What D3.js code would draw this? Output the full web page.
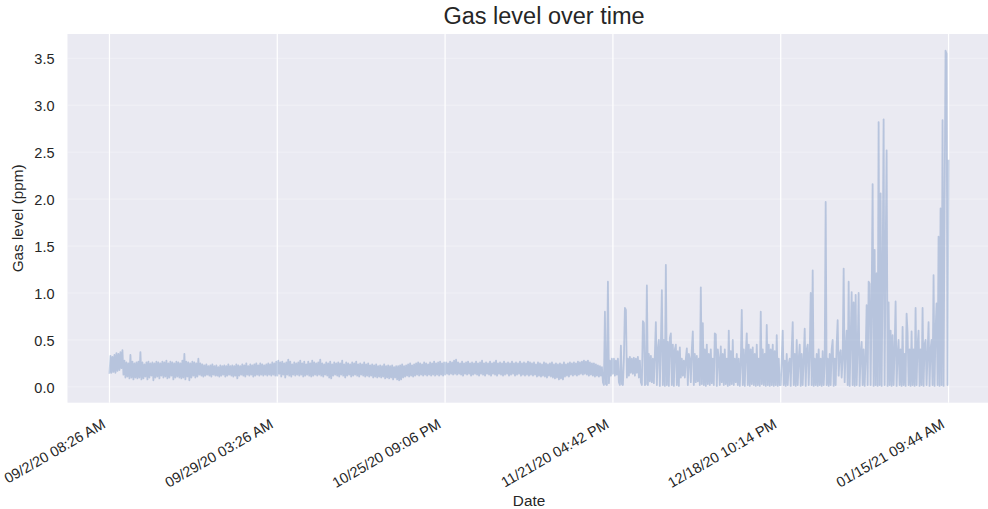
<!DOCTYPE html>
<html>
<head>
<meta charset="utf-8">
<script src="https://cdn.jsdelivr.net/npm/d3@7"></script>
<style>
  html, body { margin: 0; padding: 0; background: #ffffff; }
  svg { display: block; }
</style>
</head>
<body>
<svg id="chart" width="988" height="509"></svg>
<script>
// Gas readings (ppm), one array per span between the date ticks.
const gas_0902_0929 = [
  0.14,0.33,0.15,0.32,0.16,0.34,0.15,0.36,0.17,0.35,0.18,0.37,0.2,0.39,
  0.13,0.28,0.1,0.26,0.11,0.25,0.09,0.34,0.1,0.27,
  0.08,0.25,0.1,0.26,0.09,0.27,0.1,0.37,0.08,0.26,
  0.09,0.24,0.11,0.26,0.08,0.27,0.1,0.25,0.12,0.26,
  0.07,0.25,0.1,0.27,0.11,0.26,0.09,0.25,0.12,0.27,
  0.1,0.26,0.11,0.28,0.09,0.25,0.1,0.27,0.12,0.26,
  0.08,0.25,0.1,0.27,0.11,0.26,0.1,0.25,0.09,0.28,
  0.1,0.35,0.08,0.27,0.11,0.26,0.07,0.25,0.1,0.27,
  0.12,0.26,0.1,0.25,0.11,0.3,0.13,0.25,0.12,0.24,
  0.11,0.23,0.12,0.24,0.13,0.22,0.12,0.23,0.11,0.24,
  0.13,0.22,0.12,0.23,0.12,0.21,0.11,0.23,0.12,0.22,
  0.13,0.23,0.11,0.22,0.12,0.24,0.13,0.22,0.12,0.23,
  0.11,0.22,0.12,0.24,0.09,0.23,0.12,0.22,0.13,0.24,
  0.12,0.23,0.11,0.25,0.13,0.22,0.12,0.24,0.13,0.23,
  0.11,0.24,0.12,0.25,0.13,0.23,0.12,0.25,0.13,0.24,
  0.12,0.23,0.13,0.24,0.12,0.25,0.13,0.24,0.12,0.26,
  0.13,0.25,0.12,0.27
];
const gas_0929_1025 = [
  0.12,0.28,0.14,0.26,0.11,0.27,0.13,0.25,0.1,0.26,
  0.13,0.29,0.12,0.27,0.11,0.24,0.13,0.26,0.12,0.25,
  0.13,0.26,0.12,0.28,0.13,0.25,0.11,0.27,0.12,0.24,
  0.13,0.27,0.12,0.25,0.11,0.28,0.12,0.26,0.13,0.25,
  0.12,0.26,0.13,0.29,0.12,0.25,0.11,0.24,0.13,0.26,
  0.12,0.25,0.1,0.27,0.09,0.24,0.12,0.26,0.13,0.25,
  0.12,0.26,0.11,0.25,0.13,0.28,0.12,0.24,0.1,0.26,
  0.12,0.25,0.13,0.24,0.11,0.26,0.12,0.25,0.13,0.27,
  0.12,0.24,0.11,0.25,0.13,0.24,0.12,0.26,0.11,0.24,
  0.12,0.25,0.11,0.23,0.12,0.24,0.1,0.23,0.11,0.24,
  0.1,0.22,0.11,0.23,0.1,0.22,0.11,0.24,0.09,0.22,
  0.1,0.23,0.09,0.22,0.1,0.23,0.08,0.21,0.1,0.22,
  0.08,0.22,0.07,0.23,0.08,0.24,0.1,0.22,0.11,0.23,
  0.12,0.24,0.11,0.25,0.12,0.23,0.11,0.24,0.12,0.25,
  0.13,0.26,0.12,0.25,0.13,0.24,0.12,0.26,0.13,0.25,
  0.12,0.24,0.13,0.26,0.12,0.25,0.13,0.27,0.12,0.25,
  0.13,0.26,0.12,0.27,0.13,0.25,0.12,0.26
];
const gas_1025_1121 = [
  0.13,0.26,0.14,0.25,0.13,0.27,0.14,0.26,0.13,0.28,
  0.14,0.29,0.13,0.26,0.14,0.25,0.13,0.27,0.12,0.25,
  0.14,0.26,0.13,0.27,0.14,0.25,0.12,0.26,0.13,0.25,
  0.14,0.27,0.13,0.25,0.12,0.26,0.14,0.28,0.13,0.25,
  0.12,0.26,0.14,0.25,0.13,0.27,0.12,0.25,0.14,0.26,
  0.13,0.28,0.12,0.25,0.14,0.26,0.13,0.25,0.12,0.27,
  0.13,0.25,0.14,0.26,0.12,0.25,0.13,0.27,0.14,0.25,
  0.12,0.26,0.13,0.25,0.14,0.27,0.12,0.25,0.13,0.26,
  0.12,0.25,0.13,0.27,0.12,0.26,0.13,0.25,0.12,0.26,
  0.13,0.24,0.11,0.26,0.12,0.25,0.11,0.24,0.12,0.26,
  0.11,0.25,0.1,0.24,0.12,0.25,0.11,0.26,0.1,0.24,
  0.09,0.25,0.1,0.24,0.08,0.25,0.09,0.24,0.08,0.26,
  0.11,0.24,0.12,0.25,0.11,0.26,0.13,0.25,0.12,0.26,
  0.13,0.25,0.12,0.27,0.13,0.26,0.14,0.27,0.13,0.28,
  0.14,0.27,0.13,0.28,0.12,0.26,0.13,0.25,0.12,0.25,
  0.11,0.24,0.12,0.23,0.11,0.22,0.12,0.21,0.05,0.02,
  0.8,0.03,0.02,1.12,0.04,0.28,0.12,0.3
];
const gas_1121_1218 = [
  0.14,0.3,0.12,0.28,0.13,0.3,0.05,0.02,0.44,0.03,
  0.02,0.3,0.84,0.82,0.1,0.3,0.12,0.32,0.15,0.3,
  0.14,0.31,0.12,0.3,0.15,0.32,0.1,0.28,0.05,0.02,
  0.7,0.68,0.02,0.03,1.08,0.02,0.35,0.06,0.33,0.05,
  0.3,0.04,0.35,0.69,0.02,0.4,0.5,0.01,0.45,1.03,
  0.02,0.5,0.01,1.3,0.02,0.48,0.01,0.52,0.57,0.02,
  0.45,0.01,0.4,0.45,0.02,0.38,0.01,0.42,0.1,0.3,
  0.12,0.28,0.1,0.3,0.41,0.02,0.35,0.3,0.05,0.4,
  0.59,0.02,0.35,0.05,0.33,0.06,0.3,0.02,1.06,0.03,
  0.68,0.02,0.4,0.01,0.45,0.03,0.35,0.02,0.4,0.04,
  0.3,0.02,0.57,0.56,0.01,0.4,0.3,0.02,0.43,0.05,
  0.35,0.02,0.4,0.03,0.3,0.01,0.6,0.02,0.38,0.03,
  0.5,0.02,0.3,0.05,0.35,0.02,0.3,0.01,0.25,0.82,
  0.02,0.4,0.01,0.35,0.57,0.02,0.45,0.01,0.4,0.03,
  0.42,0.02,0.35,0.01,0.45,0.02,0.3,0.01,0.8,0.03,
  0.4,0.02,0.35,0.01,0.66,0.02,0.45,0.01,0.4,0.02,
  0.45,0.01,0.38,0.02,0.55,0.01,0.3,0.02
];
const gas_1218_0115 = [
  0.02,0.3,0.6,0.02,0.28,0.01,0.35,0.02,0.25,0.3,
  0.01,0.4,0.69,0.02,0.35,0.01,0.5,0.02,0.3,0.45,
  0.01,0.35,0.02,0.3,0.62,0.01,0.4,0.45,0.02,0.35,
  1.0,0.02,1.24,0.01,0.3,0.02,0.35,0.01,0.4,0.02,
  0.3,0.01,0.38,0.02,0.25,1.97,0.02,0.3,0.01,0.35,
  0.02,0.4,0.5,0.01,0.3,0.02,0.45,0.71,0.12,0.35,
  0.39,0.1,0.3,1.26,0.05,0.4,0.6,0.02,1.12,0.01,
  0.5,1.01,0.02,0.9,0.01,0.98,0.02,0.4,1.0,0.01,
  0.35,0.48,0.02,0.4,0.01,0.3,0.87,0.02,1.12,1.1,
  0.02,0.9,2.16,0.01,1.46,0.02,1.21,0.01,2.82,0.02,
  2.06,0.01,1.2,2.85,0.02,1.4,2.52,0.01,0.9,0.02,
  0.6,0.01,0.55,0.02,0.4,0.91,0.01,0.35,0.5,0.02,
  0.4,0.01,0.64,0.02,0.35,0.01,0.78,0.57,0.02,0.4,
  0.01,0.59,0.02,0.4,0.01,0.84,0.02,0.45,0.6,0.01,
  0.4,0.02,0.84,0.01,0.45,0.5,0.02,0.35,0.69,0.01,
  0.4,0.5,0.02,1.19,0.01,0.6,0.89,0.02,1.6,0.01,
  1.9,0.02,2.84,0.01,1.85,3.58,3.55,0.02,2.42
];

const tickLabels = [
  "09/2/20 08:26 AM",
  "09/29/20 03:26 AM",
  "10/25/20 09:06 PM",
  "11/21/20 04:42 PM",
  "12/18/20 10:14 PM",
  "01/15/21 09:44 AM"
];
const yTicks = [0, 0.5, 1.0, 1.5, 2.0, 2.5, 3.0, 3.5];

const gasLevels = [].concat(gas_0902_0929, gas_0929_1025, gas_1025_1121, gas_1121_1218, gas_1218_0115);

const FONT = '"Liberation Sans", Arial, Helvetica, sans-serif';
const TEXT = "#262626";
const plot = { left: 67.5, right: 990.5, top: 34, bottom: 402.7 };

const svg = d3.select("#chart");

// x runs over sample index, with 5% padding on each side
const n = gasLevels.length;
const xPad = (n - 1) * 0.05;
const x = d3.scaleLinear().domain([-xPad, n - 1 + xPad]).range([plot.left, plot.right]);

const yLo = d3.min(gasLevels), yHi = d3.max(gasLevels);
const yPad = (yHi - yLo) * 0.05;
const y = d3.scaleLinear().domain([yLo - yPad, yHi + yPad]).range([plot.bottom, plot.top]);

const tickIdx = tickLabels.map((_, k) => k * (n - 1) / (tickLabels.length - 1));

// plot background
svg.append("rect")
  .attr("x", plot.left).attr("y", plot.top)
  .attr("width", plot.right - plot.left).attr("height", plot.bottom - plot.top)
  .attr("fill", "#eaeaf2");

// grid
svg.append("g").selectAll("line").data(yTicks).join("line")
  .attr("x1", plot.left).attr("x2", plot.right)
  .attr("y1", d => y(d)).attr("y2", d => y(d))
  .attr("stroke", "#ffffff").attr("stroke-opacity", 0.35).attr("stroke-width", 1);

svg.append("g").selectAll("line").data(tickIdx).join("line")
  .attr("x1", d => x(d)).attr("x2", d => x(d))
  .attr("y1", plot.top).attr("y2", plot.bottom)
  .attr("stroke", "#ffffff").attr("stroke-width", 1.2);

// gas series
const line = d3.line().x((d, i) => x(i)).y(d => y(d));
svg.append("path")
  .datum(gasLevels)
  .attr("d", line)
  .attr("fill", "none")
  .attr("stroke", "#4c72b0")
  .attr("stroke-opacity", 0.32)
  .attr("stroke-width", 1.8)
  .attr("stroke-linejoin", "round");

// y axis
const yAxis = svg.append("g")
  .attr("transform", `translate(${plot.left},0)`)
  .call(d3.axisLeft(y).tickValues(yTicks).tickFormat(d3.format(".1f")).tickSize(0));
yAxis.select(".domain").remove();
yAxis.selectAll("text")
  .attr("x", -13).attr("dy", null).attr("y", 5.2)
  .attr("text-anchor", "end")
  .style("font-family", FONT).style("font-size", "14.5px").attr("fill", TEXT);

// x axis with rotated date labels
const xAxis = svg.append("g")
  .attr("transform", `translate(0,${plot.bottom})`)
  .call(d3.axisBottom(x).tickValues(tickIdx).tickFormat((d, k) => tickLabels[k]).tickSize(0));
xAxis.select(".domain").remove();
xAxis.selectAll("text")
  .attr("x", null).attr("y", null).attr("dy", null)
  .attr("text-anchor", "end")
  .attr("transform", "translate(-3.5,24.3) rotate(-30)")
  .style("font-family", FONT).style("font-size", "14.5px").attr("fill", TEXT);

// axis titles
svg.append("text")
  .attr("x", (plot.left + plot.right) / 2).attr("y", 506)
  .attr("text-anchor", "middle")
  .style("font-family", FONT).style("font-size", "15.3px").attr("fill", TEXT)
  .text("Date");

svg.append("text")
  .attr("transform", `translate(23,${(plot.top + plot.bottom) / 2}) rotate(-90)`)
  .attr("text-anchor", "middle")
  .style("font-family", FONT).style("font-size", "15.3px").attr("fill", TEXT)
  .text("Gas level (ppm)");

// chart title
svg.append("text")
  .attr("x", 544).attr("y", 24)
  .attr("text-anchor", "middle")
  .style("font-family", FONT).style("font-size", "23.5px").attr("fill", TEXT)
  .text("Gas level over time");
</script>
</body>
</html>
